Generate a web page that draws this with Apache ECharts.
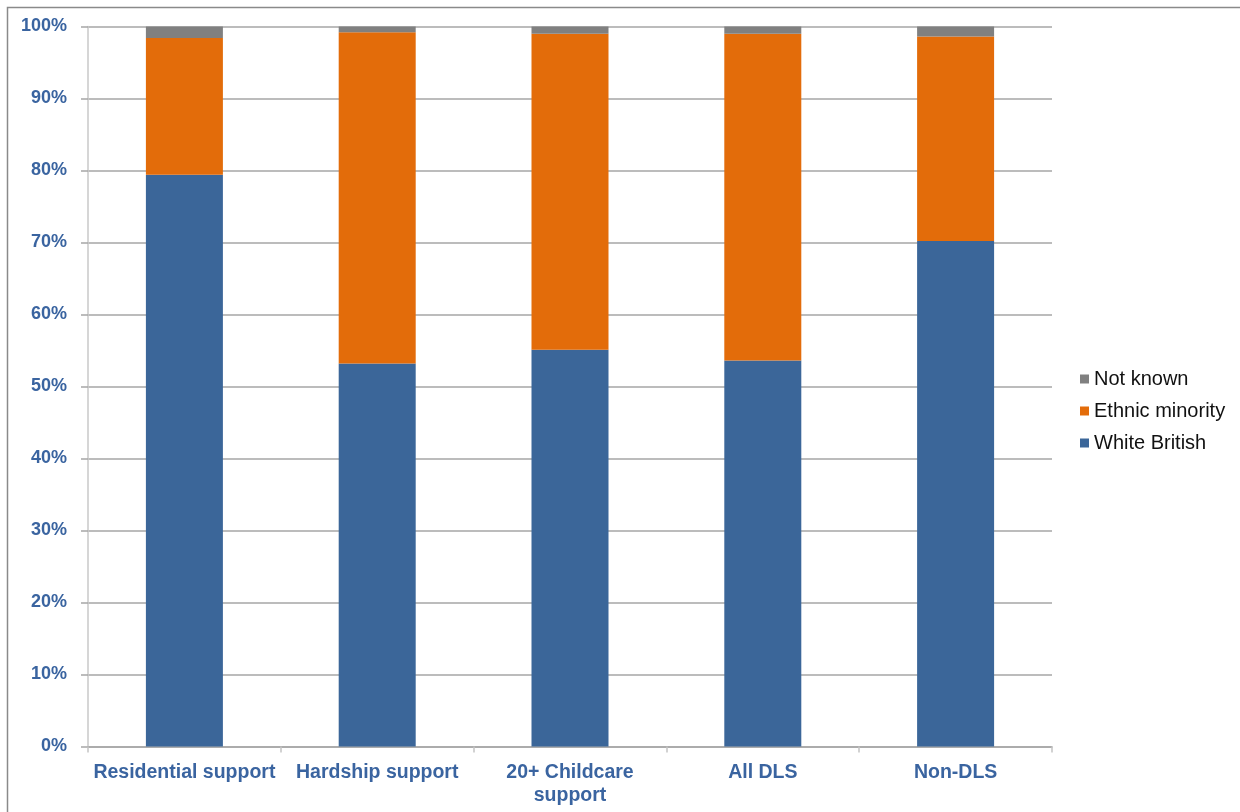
<!DOCTYPE html>
<html>
<head>
<meta charset="utf-8">
<script src="https://cdn.jsdelivr.net/npm/echarts@6/dist/echarts.min.js"></script>
<style>html,body{margin:0;padding:0;background:#fff;}#c{width:1240px;height:812px;}</style>
</head>
<body>
<div id="c"></div>
<script>
const categories = ['Residential support', 'Hardship support', '20+ Childcare\nsupport', 'All DLS', 'Non-DLS'];
const whiteBritish = [79.4, 53.2, 55.1, 53.6, 70.2];
const ethnicMinority = [19.0, 46.0, 43.9, 45.4, 28.4];
const notKnown = [1.6, 0.8, 1.0, 1.0, 1.4];
const yTicks = [0, 10, 20, 30, 40, 50, 60, 70, 80, 90, 100];

const chart = echarts.init(document.getElementById('c'), null, {renderer: 'canvas'});
const labelBlue = '#3a64a0';
chart.setOption({
  animation: false,
  backgroundColor: '#fff',
  graphic: [{
    type: 'rect', silent: true, z: -1,
    shape: {x: 7.5, y: 7.5, width: 1400, height: 1000},
    style: {fill: 'none', stroke: '#8a8a8a', lineWidth: 1.5}
  }],
  grid: {left: 88, right: 188, top: 26.5, bottom: 65.5, containLabel: false},
  legend: {
    orient: 'vertical', left: 1080, top: 369, padding: 0,
    data: ['Not known', 'Ethnic minority', 'White British'],
    itemWidth: 9, itemHeight: 9, itemGap: 12,
    icon: 'rect',
    textStyle: {color: '#111', fontSize: 20, fontFamily: 'Liberation Sans, Arial, sans-serif', lineHeight: 20, padding: [0, 0, 0, 0]}
  },
  xAxis: {
    type: 'category', data: categories,
    axisLine: {show: true, lineStyle: {color: '#a6a6a6', width: 1.5}},
    axisTick: {show: true, length: 6, alignWithLabel: false, lineStyle: {color: '#c4c4c4', width: 1.5}},
    axisLabel: {color: labelBlue, fontSize: 19.5, fontWeight: 'bold', fontFamily: 'Liberation Sans, Arial, sans-serif', margin: 15, lineHeight: 23, interval: 0}
  },
  yAxis: {
    type: 'value', min: 0, max: 100, interval: 10,
    axisLine: {show: true, lineStyle: {color: '#c8c8c8', width: 1.5}},
    axisTick: {show: true, length: 7, lineStyle: {color: '#a6a6a6', width: 1.5}},
    splitLine: {show: true, lineStyle: {color: '#a6a6a6', width: 1.5}},
    axisLabel: {
      color: labelBlue, fontSize: 18, fontWeight: 'bold', fontFamily: 'Liberation Sans, Arial, sans-serif', margin: 21,
      formatter: v => (yTicks.indexOf(v) >= 0 ? v + '%' : '')
    }
  },
  series: [
    {name: 'White British', type: 'bar', stack: 'a', data: whiteBritish, barWidth: 77, itemStyle: {color: '#3b6699'}},
    {name: 'Ethnic minority', type: 'bar', stack: 'a', data: ethnicMinority, barWidth: 77, itemStyle: {color: '#e36c0a'}},
    {name: 'Not known', type: 'bar', stack: 'a', data: notKnown, barWidth: 77, itemStyle: {color: '#808080'}}
  ]
});
</script>
</body>
</html>
